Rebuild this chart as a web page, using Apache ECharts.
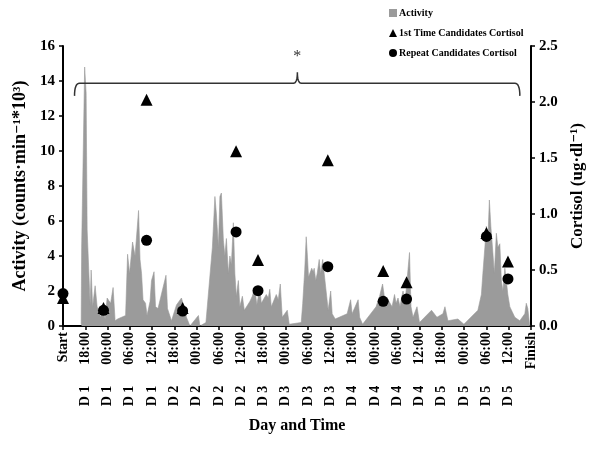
<!DOCTYPE html>
<html>
<head>
<meta charset="utf-8">
<script src="https://cdn.jsdelivr.net/npm/echarts@6/dist/echarts.min.js"></script>
<style>html,body{margin:0;padding:0;background:#fff}#c{width:600px;height:450px}</style>
</head>
<body>
<div id="c"></div>
<script>
// ---- tick labels (one every 6 hours from Start) ----
const xTickLabels = ['Start',
  'D 1      18:00','D 1      00:00','D 1      06:00','D 1      12:00',
  'D 2      18:00','D 2      00:00','D 2      06:00','D 2      12:00',
  'D 3      18:00','D 3      00:00','D 3      06:00','D 3      12:00',
  'D 4      18:00','D 4      00:00','D 4      06:00','D 4      12:00',
  'D 5      18:00','D 5      00:00','D 5      06:00','D 5      12:00',
  'Finish'];

// ---- Activity (counts·min-1*10^3), hours since Start ----
const activityHours = [4.89,5.02,5.83,6.23,6.50,7.31,7.58,7.98,8.65,9.19,10.13,10.67,11.34,11.88,12.82,13.49,14.03,14.70,16.85,17.39,17.92,18.73,19.40,20.34,20.74,21.15,21.55,22.22,22.62,23.43,23.83,24.51,24.91,25.58,27.73,28.13,29.21,30.55,31.89,32.43,33.24,34.18,36.46,36.87,38.48,40.22,40.90,41.30,41.84,42.24,42.64,43.18,43.58,43.99,44.52,44.93,45.33,45.87,46.27,46.67,47.21,47.61,48.29,48.82,50.30,50.97,51.64,52.18,52.59,52.99,53.39,54.73,55.27,55.67,56.08,57.42,57.96,58.50,59.03,60.38,60.91,64.14,64.54,65.08,65.48,65.83,66.10,66.96,67.36,67.63,68.04,68.44,68.98,69.38,69.92,70.32,70.99,71.39,72.07,72.47,73.28,76.50,77.44,77.84,79.46,79.86,80.66,84.29,85.23,86.04,86.44,87.11,87.52,88.59,89.26,89.67,90.20,90.74,91.14,91.55,92.08,92.62,93.29,93.70,94.23,95.31,95.98,99.21,100.68,102.29,102.83,103.23,103.64,106.32,107.94,111.70,112.64,113.04,113.58,113.98,114.39,114.79,115.19,115.73,116.13,116.67,117.08,117.61,118.02,118.42,118.96,119.36,119.76,120.30,121.64,122.98,124.33,124.73,125.14,125.67];
const activityValues = [0.1,4.5,14.8,13.3,5.5,1.2,3.2,1.1,2.3,1.1,0.5,1.0,0.4,1.6,1.3,2.2,0.3,0.4,0.6,4.1,3.0,4.8,4.0,6.6,3.8,3.0,1.5,1.3,0.6,1.4,2.6,3.1,1.1,1.0,2.9,1.0,0.3,1.2,1.6,1.2,0.5,0.0,0.6,0.0,0.2,4.5,7.4,6.4,4.5,7.4,7.6,4.9,4.0,5.0,3.0,4.0,3.5,5.9,3.0,1.7,2.6,1.1,1.7,0.9,1.4,1.7,2.2,1.2,1.7,2.2,1.3,1.8,1.6,2.1,1.1,1.8,1.5,2.4,0.5,0.9,0.1,0.2,1.3,3.2,5.1,3.9,2.8,3.3,3.1,3.3,2.6,3.0,3.8,3.0,3.8,3.0,1.7,0.9,2.0,0.7,0.4,0.7,1.5,0.7,1.5,0.5,0.1,1.1,1.7,2.4,1.8,1.1,1.5,1.1,1.8,1.3,1.6,1.1,1.6,2.0,1.3,2.6,4.2,1.1,0.5,1.1,0.2,0.9,0.5,0.7,1.1,0.7,0.3,0.4,0.1,0.9,1.8,3.0,4.5,5.7,4.9,7.2,5.7,4.2,3.0,5.3,4.5,4.7,2.6,2.0,3.3,2.6,1.8,1.1,0.5,0.3,0.7,1.3,1.0,0.0];

// ---- Cortisol (ug·dl-1) ----
const cortisolHours = [0, 10.9, 22.5, 32.2, 46.6, 52.5, 71.3, 86.2, 92.5, 114.0, 119.8];
const firstTimeCortisol = [0.25, 0.16, 2.02, 0.16, 1.56, 0.59, 1.48, 0.49, 0.39, 0.83, 0.575];
const repeatCortisol    = [0.29, 0.14, 0.765, 0.134, 0.84, 0.315, 0.53, 0.22, 0.24, 0.80, 0.42];

// bracket annotation (hours, activity units)
const bracketLeft = 3.1, bracketRight = 123.0, bracketMid = 63.1;
const bracketLevel = 13.87, bracketEnd = 13.15, bracketPeak = 14.5, starLevel = 15.4;

const FONT = "'Liberation Serif','Times New Roman','DejaVu Serif',serif";
const zip = (a, b) => a.map((v, i) => [v, b[i]]);

const chart = echarts.init(document.getElementById('c'), null, {renderer: 'canvas'});
const axisLine = {show: true, lineStyle: {color: '#000', width: 2}};
const axisTick = {show: true, length: 4, lineStyle: {color: '#000', width: 1.5}};
chart.setOption({
  animation: false,
  backgroundColor: '#fff',
  grid: {left: 63, right: 69, top: 46, bottom: 124},
  legend: {
    orient: 'vertical', left: 384, top: 3, itemGap: 10,
    itemWidth: 8, itemHeight: 8,
    textStyle: {fontFamily: FONT, fontWeight: 'bold', fontSize: 10, color: '#000', padding: [0, 0, 0, -3]},
    data: [
      {name: 'Activity', icon: 'rect', itemStyle: {color: '#9b9b9b'}},
      {name: '1st Time Candidates Cortisol', icon: 'triangle', itemStyle: {color: '#000', opacity: 1}},
      {name: 'Repeat Candidates Cortisol', icon: 'circle', itemStyle: {color: '#000', opacity: 1}}
    ]
  },
  xAxis: {
    type: 'value', min: 0, max: 126, interval: 6,
    name: 'Day and Time', nameLocation: 'middle', nameGap: 92,
    nameTextStyle: {fontFamily: FONT, fontWeight: 'bold', fontSize: 16, color: '#000'},
    axisLine, axisTick, splitLine: {show: false},
    axisLabel: {
      rotate: 90, margin: 6, showMinLabel: true, showMaxLabel: true,
      fontFamily: FONT, fontWeight: 'bold', fontSize: 14, color: '#000',
      formatter: v => xTickLabels[Math.round(v / 6)]
    }
  },
  yAxis: [{
    type: 'value', min: 0, max: 16, interval: 2, position: 'left',
    name: 'Activity (counts·min⁻¹*10³)', nameLocation: 'middle', nameGap: 34, nameRotate: 90,
    nameTextStyle: {fontFamily: FONT, fontWeight: 'bold', fontSize: 18, color: '#000'},
    axisLine, axisTick, splitLine: {show: false},
    axisLabel: {fontFamily: FONT, fontWeight: 'bold', fontSize: 15, color: '#000', margin: 8}
  }, {
    type: 'value', min: 0, max: 2.5, interval: 0.5, position: 'right',
    name: 'Cortisol (ug·dl⁻¹)', nameLocation: 'middle', nameGap: 36, nameRotate: 90,
    nameTextStyle: {fontFamily: FONT, fontWeight: 'bold', fontSize: 17, color: '#000'},
    axisLine, axisTick, splitLine: {show: false},
    axisLabel: {fontFamily: FONT, fontWeight: 'bold', fontSize: 15, color: '#000', margin: 8,
      formatter: v => v.toFixed(1)}
  }],
  series: [{
    name: 'Activity', type: 'line', symbol: 'none',
    data: zip(activityHours, activityValues),
    lineStyle: {width: 0.6, color: '#9b9b9b'},
    itemStyle: {color: '#9b9b9b'},
    areaStyle: {color: '#9b9b9b', opacity: 1},
    z: 1
  }, {
    name: '1st Time Candidates Cortisol', type: 'scatter', yAxisIndex: 1,
    symbol: 'triangle', symbolSize: 12, itemStyle: {color: '#000', opacity: 1},
    data: zip(cortisolHours, firstTimeCortisol), z: 3
  }, {
    name: 'Repeat Candidates Cortisol', type: 'scatter', yAxisIndex: 1,
    symbol: 'circle', symbolSize: 11, itemStyle: {color: '#000', opacity: 1},
    data: zip(cortisolHours, repeatCortisol), z: 4
  }]
});

// bracket with asterisk (sampled quadratic curves -> polyline)
const P = (h, v) => chart.convertToPixel({xAxisIndex: 0, yAxisIndex: 0}, [h, v]);
const a = P(bracketLeft, bracketEnd), b = P(bracketLeft, bracketLevel);
const c = P(bracketMid, bracketLevel), pk = P(bracketMid, bracketPeak);
const d = P(bracketRight, bracketLevel), e = P(bracketRight, bracketEnd);
const st = P(bracketMid, starLevel);
function quad(p0, p1, p2, n) {
  const out = [];
  for (let i = 0; i <= n; i++) {
    const t = i / n, u = 1 - t;
    out.push([u*u*p0[0] + 2*u*t*p1[0] + t*t*p2[0], u*u*p0[1] + 2*u*t*p1[1] + t*t*p2[1]]);
  }
  return out;
}
const r = 5;
let pts = [];
pts = pts.concat(quad(a, b, [b[0] + r, b[1]], 8));
pts = pts.concat(quad([c[0] - 4, c[1]], [c[0], c[1]], pk, 8));
pts = pts.concat(quad(pk, [c[0], c[1]], [c[0] + 4, c[1]], 8));
pts = pts.concat(quad([d[0] - r, d[1]], d, e, 8));
chart.setOption({
  graphic: [{
    type: 'polyline', shape: {points: pts}, silent: true, z: 10,
    style: {fill: null, stroke: '#333', lineWidth: 1.5}
  }, {
    type: 'text', x: st[0], y: st[1], silent: true, z: 10,
    style: {text: '*', fontFamily: FONT, fontSize: 16, fill: '#333', align: 'center', verticalAlign: 'middle'}
  }]
});
</script>
</body>
</html>
